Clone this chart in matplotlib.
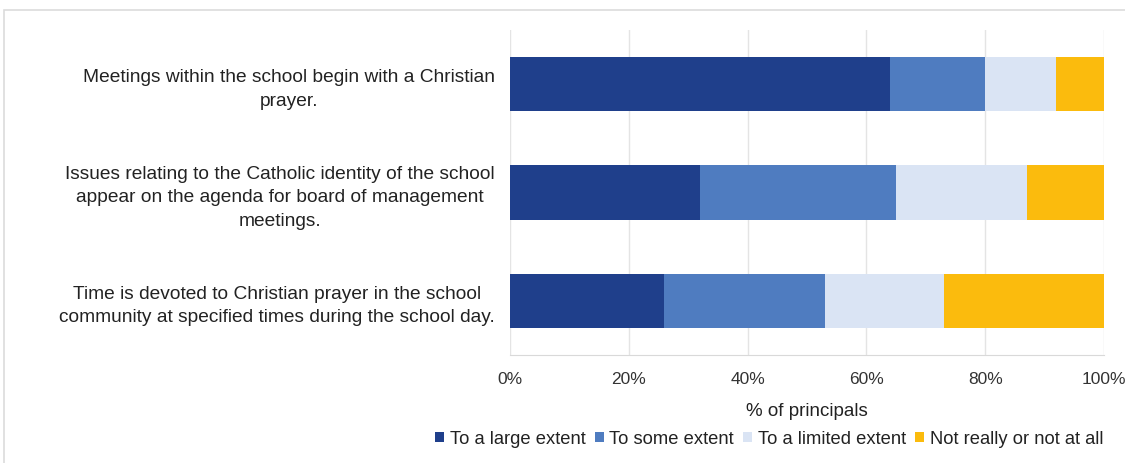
import matplotlib.pyplot as plt
from matplotlib.patches import Rectangle

plt.rcParams['font.family'] = ['Liberation Sans', 'DejaVu Sans']

statements = [
    'Meetings within the school begin with a Christian\nprayer.',
    'Issues relating to the Catholic identity of the school\nappear on the agenda for board of management\nmeetings.',
    'Time is devoted to Christian prayer in the school\ncommunity at specified times during the school day.',
]
large_extent = [64, 32, 26]
some_extent = [16, 33, 27]
limited_extent = [12, 22, 20]
not_at_all = [8, 13, 27]

series = [
    ('To a large extent', large_extent, '#1f3f8b'),
    ('To some extent', some_extent, '#4f7cc0'),
    ('To a limited extent', limited_extent, '#dae4f4'),
    ('Not really or not at all', not_at_all, '#fbbb0d'),
]

fig = plt.figure(figsize=(11.25, 4.63), dpi=100)
ax = fig.add_axes([510 / 1125, 1 - 355 / 463, 594 / 1125, 325 / 463])

ypos = list(range(len(statements)))
left = [0] * len(statements)
for name, vals, col in series:
    ax.barh(ypos, vals, left=left, height=0.5, color=col, label=name, zorder=3)
    left = [l + v for l, v in zip(left, vals)]

ax.set_xlim(0, 100)
ax.set_ylim(2.5, -0.5)
ax.set_xticks(range(0, 101, 20))
ax.set_xticklabels([f'{t}%' for t in range(0, 101, 20)], fontsize=12.5, color='#333333')
ax.set_yticks(ypos)
ax.set_yticklabels(statements, fontsize=13.8, color='#222222', linespacing=1.5)
for lbl in ax.get_yticklabels():
    lbl.set_multialignment('center')
ax.tick_params(axis='both', length=0)
ax.tick_params(axis='y', pad=11)
ax.tick_params(axis='x', pad=12)

ax.grid(axis='x', color='#e4e4e4', linewidth=1, zorder=0)
for s in ['top', 'right', 'left']:
    ax.spines[s].set_visible(False)
ax.spines['bottom'].set_color('#d9d9d9')

ax.set_xlabel('% of principals', fontsize=13.5, color='#222222', labelpad=12)

handles, labels = ax.get_legend_handles_labels()
fig.legend(handles, labels, loc='center', bbox_to_anchor=(769 / 1125, 1 - 439 / 463),
           ncol=4, frameon=False, fontsize=13.2, handlelength=0.5, handleheight=0.5,
           handletextpad=0.3, columnspacing=0.5, labelcolor='#222222',
           borderpad=0, borderaxespad=0)

# light frame around the chart
fig.patches.append(Rectangle((4 / 1125, -0.05), 1.1, 1 - 10 / 463 + 0.05,
                             transform=fig.transFigure, fill=False,
                             edgecolor='#dcdcdc', linewidth=1.2))

fig.savefig('out.png', dpi=100)
